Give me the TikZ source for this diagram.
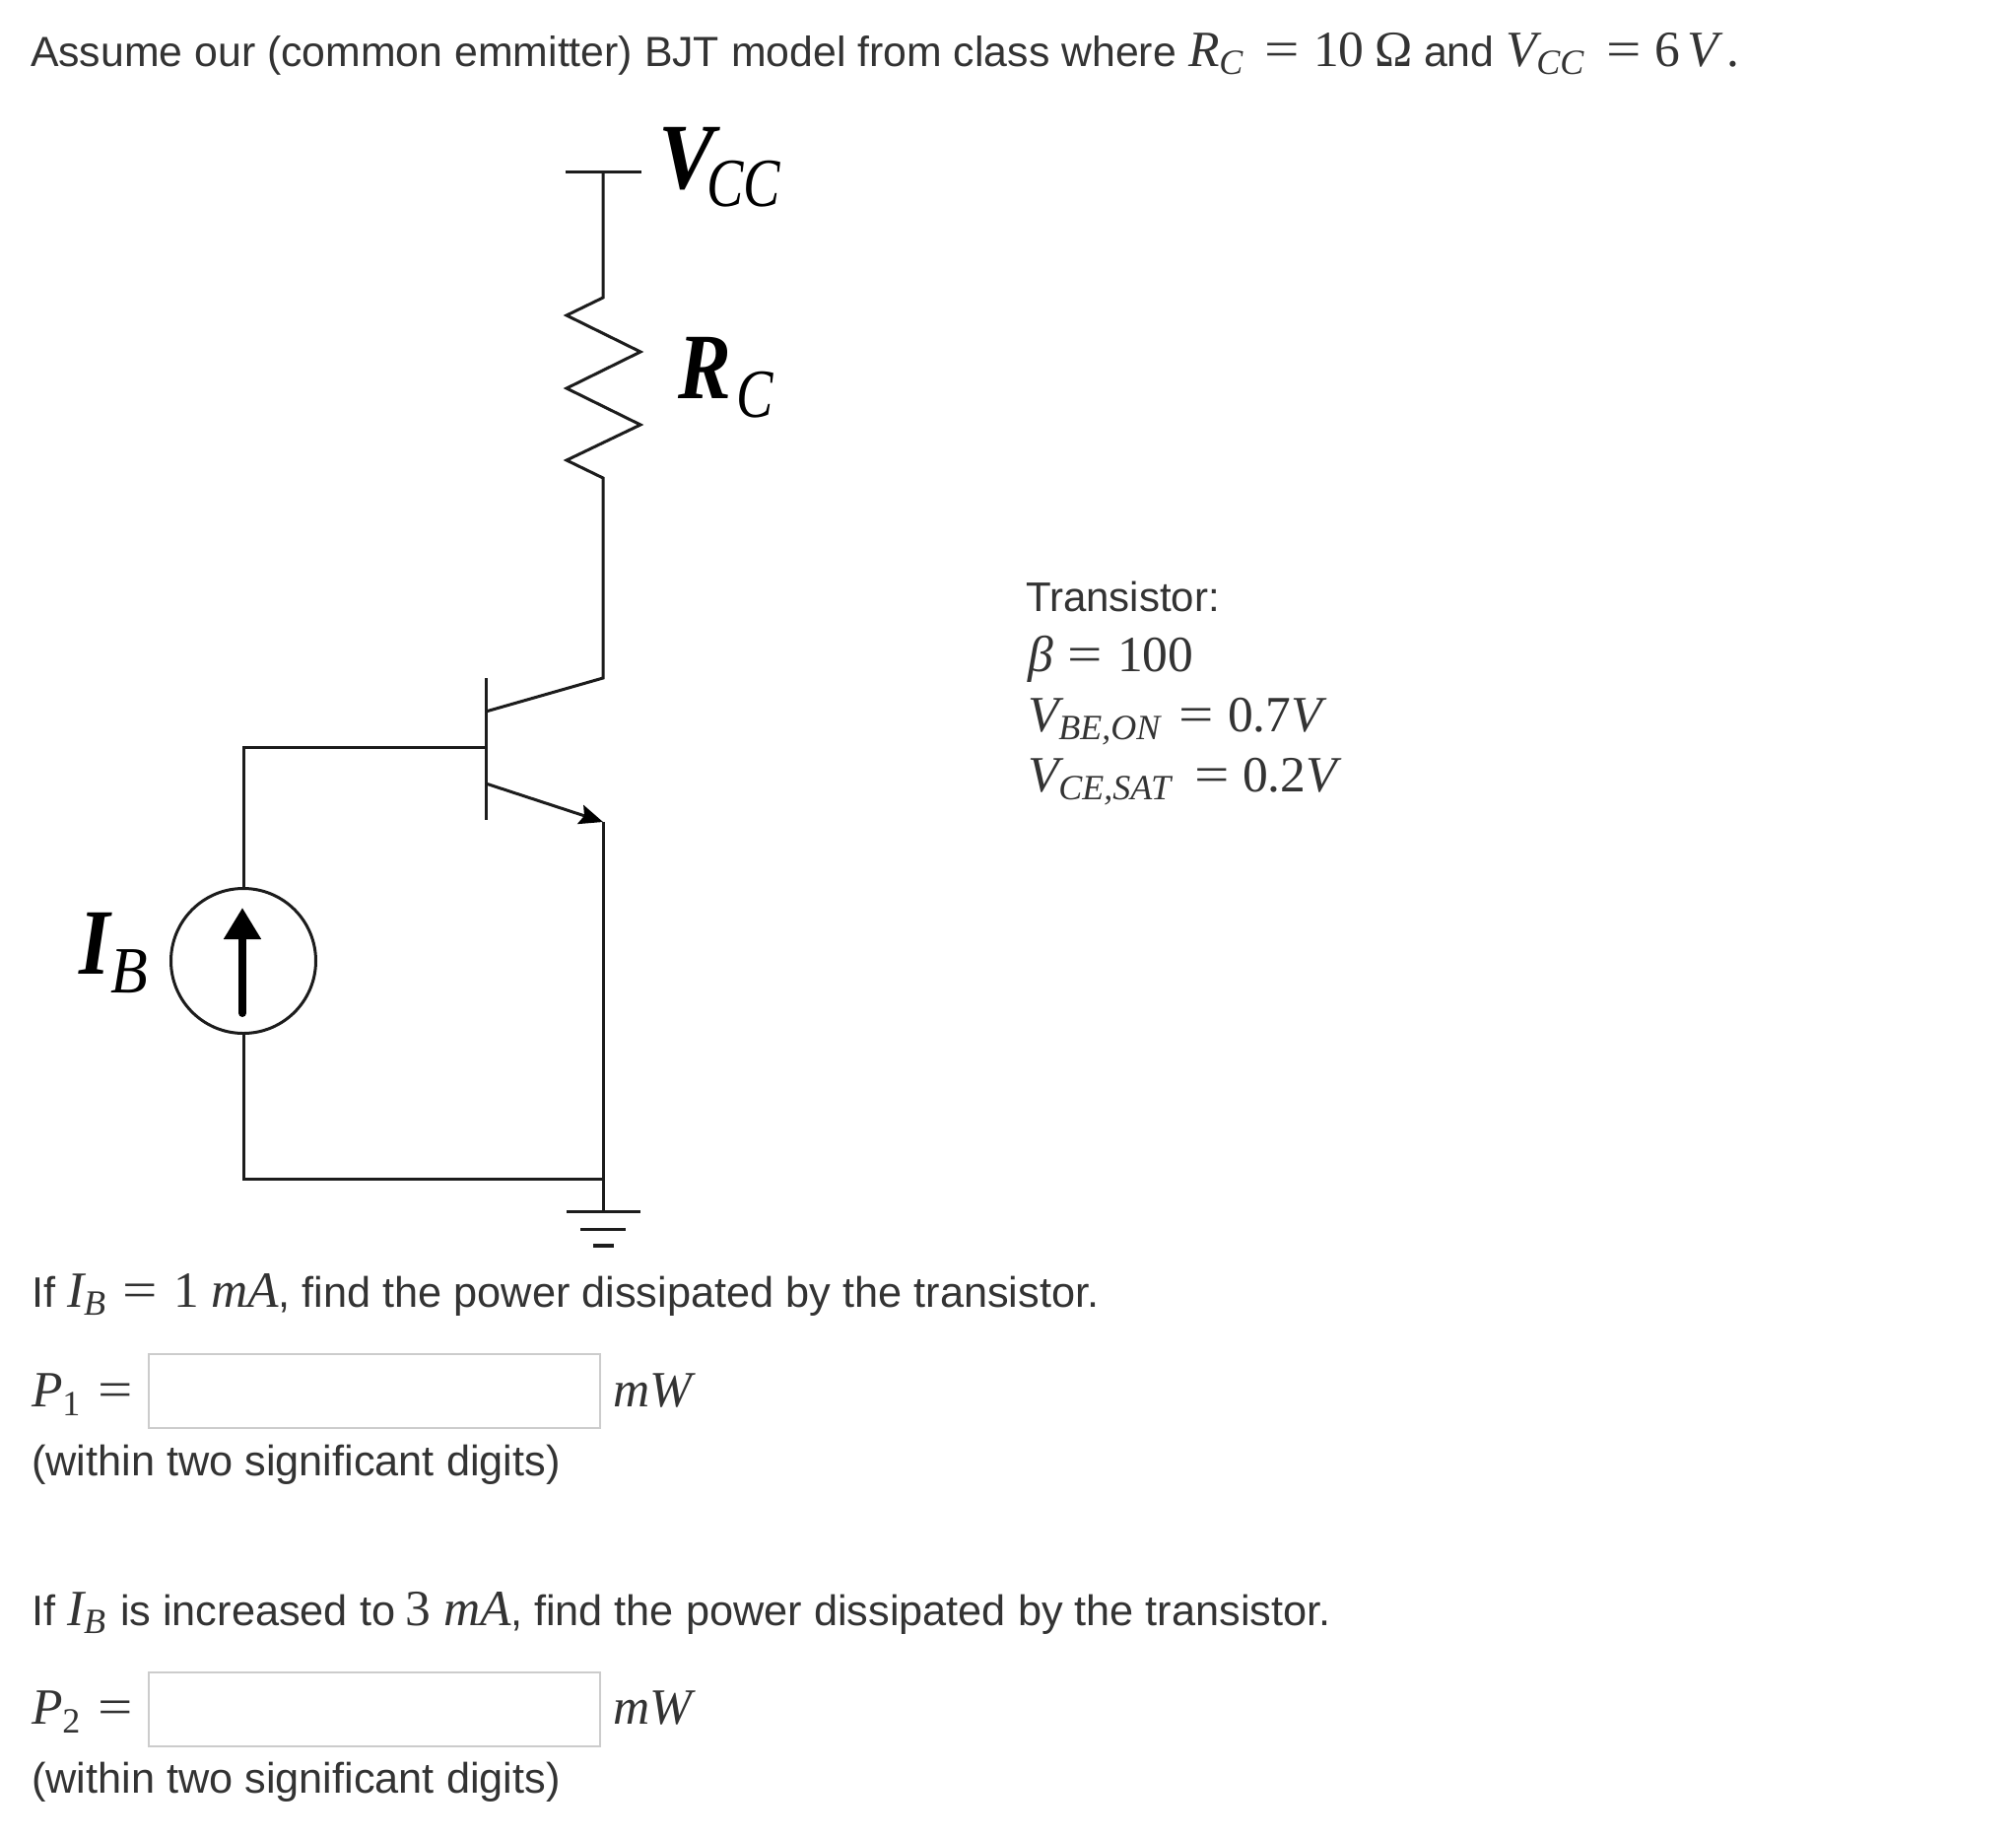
\documentclass[tikz,border=0pt]{standalone}
\usepackage[no-math]{fontspec}
\setmainfont{Liberation Sans}
\newfontfamily\lsf{Liberation Serif}
\usetikzlibrary{arrows.meta}
\definecolor{txt}{HTML}{333333}
\definecolor{wire}{HTML}{1C1C1C}
\definecolor{boxline}{HTML}{CCCCCC}
\tikzset{
  wireline/.style={draw=wire,line width=3pt,line join=miter},
  para/.style={anchor=base west,inner sep=0pt,outer sep=0pt,text=txt,font=\fontsize{43.3}{50}\selectfont},
  mup/.style={anchor=base west,inner sep=0pt,outer sep=0pt,text=txt,font=\fontsize{51.5}{56}\selectfont\lsf},
  mit/.style={mup,font=\fontsize{51.5}{56}\selectfont\lsf\itshape},
  answer/.style={draw=boxline,line width=2pt,fill=white,anchor=north west,inner sep=0pt,minimum width=458pt,minimum height=75pt},
  cirlabel/.style={anchor=base west,inner sep=0pt,outer sep=0pt,text=black}
}
\newcommand{\Sb}[2][8pt]{\raisebox{-#1}{\fontsize{36}{40}\selectfont\lsf\itshape #2}}
\newcommand{\Sn}[1]{\raisebox{-9pt}{\fontsize{36}{40}\selectfont\lsf\upshape #1}}
\newcommand{\Eq}{\scalebox{1.22}[1]{=}}
\begin{document}
\begin{tikzpicture}[x=1pt,y=-1pt]
\useasboundingbox (0,0) rectangle (2046,1864);
\fill[white] (0,0) rectangle (2046,1864);
% title line
\node[para,font=\fontsize{42.8}{50}\selectfont] (title) at (31,67) {Assume our (common emmitter) BJT model from class where};
\node[mit] (tR) at (1206,67) {R\Sb{C}};
\node[mup] (tE1) at (1283,67) {\Eq};
\node[mup] (t10) at (1333,67) {10};
\node[mup] (tO) at (1395,67) {Ω};
\node[para,font=\fontsize{42.8}{50}\selectfont] (tand) at (1445,67) {and};
\node[mit] (tV) at (1528,67) {V\Sb{CC}};
\node[mup] (tE2) at (1630,67) {\Eq};
\node[mup] (t6) at (1679,67) {6};
\node[mit] (tV2) at (1712,67) {V\,\upshape.};
% transistor data
\node[para,font=\fontsize{42}{50}\selectfont] (trans) at (1041,620) {Transistor:};
\node[mit] (beta) at (1043,681) {β};
\node[mup] (betaE) at (1083,681) {\Eq};
\node[mup] (betaV) at (1134,681) {100};
\node[mit] (vbe) at (1043,742) {V\Sb{BE,ON}};
\node[mup] (vbeE) at (1196,742) {\Eq};
\node[mup] (vbeN) at (1246,742) {0.7};
\node[mit] (vbeV) at (1310,742) {V};
\node[mit] (vce) at (1043,803) {V\Sb{CE,SAT}};
\node[mup] (vceE) at (1212,803) {\Eq};
\node[mup] (vceN) at (1261,803) {0.2};
\node[mit] (vceV) at (1325,803) {V};
% first question
\node[para] (q1a) at (32,1326.5) {If};
\node[mit] (q1I) at (68,1326.5) {I\Sb{B}};
\node[mup] (q1E) at (124,1326.5) {\Eq};
\node[mup] (q1N) at (176,1326.5) {1};
\node[mit] (q1m) at (214,1326.5) {mA};
\node[para] (q1b) at (282.6,1326.5) {, find the power dissipated by the transistor.};
\node[mit] (p1) at (32,1427) {P\Sn{1}};
\node[mup] (p1E) at (99,1427) {\Eq};
\node[answer] (box1) at (150,1373) {};
\node[mit] (u1) at (622,1427) {mW};
\node[para] (w1) at (32,1497) {(within two significant digits)};
% second question
\node[para] (q2a) at (32,1649) {If};
\node[mit] (q2I) at (68,1649) {I\Sb{B}};
\node[para] (q2b) at (122,1649) {is increased to};
\node[mup] (q2N) at (411,1649) {3};
\node[mit] (q2m) at (450,1649) {mA};
\node[para] (q2c) at (518,1649) {, find the power dissipated by the transistor.};
\node[mit] (p2) at (32,1749) {P\Sn{2}};
\node[mup] (p2E) at (99,1749) {\Eq};
\node[answer] (box2) at (150,1696) {};
\node[mit] (u2) at (622,1749) {mW};
\node[para] (w2) at (32,1819) {(within two significant digits)};
% circuit labels
\node[cirlabel] (vcc) at (668,191) {\scalebox{.9}[1]{\fontsize{95}{95}\selectfont\lsf\itshape\bfseries V}\raisebox{-18pt}{\kern-8pt\scalebox{.8}[1]{\fontsize{70}{70}\selectfont\lsf\itshape CC}}};
\node[cirlabel] (rc) at (688,404) {\scalebox{.85}[1]{\fontsize{95}{95}\selectfont\lsf\itshape\bfseries R}\raisebox{-19pt}{\kern6pt\scalebox{.8}[1]{\fontsize{70}{70}\selectfont\lsf\itshape C}}};
\node[cirlabel] (ib) at (80,988) {\scalebox{.85}[1]{\fontsize{95}{95}\selectfont\lsf\itshape\bfseries I}\raisebox{-19pt}{\kern1pt\scalebox{.92}[1]{\fontsize{67}{67}\selectfont\lsf\itshape B}}};
% circuit points
\coordinate (top) at (612,174);
\coordinate (barL) at (574,174);
\coordinate (barR) at (651,174);
\coordinate (r0) at (612,302);
\coordinate (r1) at (575,320);
\coordinate (r2) at (650,357);
\coordinate (r3) at (575,394);
\coordinate (r4) at (650,431);
\coordinate (r5) at (575,467);
\coordinate (r6) at (612,485);
\coordinate (c) at (612,688);
\coordinate (ci) at (493,722);
\coordinate (e) at (612,834);
\coordinate (ei) at (493,795);
\coordinate (bt) at (493,688);
\coordinate (bb) at (493,832);
\coordinate (b) at (493,758);
\coordinate (bc) at (247.5,758);
\coordinate (botL) at (247.5,1196);
\coordinate (botR) at (612,1196);
\coordinate (g) at (612,1229.5);
\node[draw=wire,line width=3pt,inner sep=0pt,circle,minimum size=147pt] (src) at (247,975) {};
\coordinate (at) at (246,921);
\coordinate (ab) at (246,1028);
\coordinate (g1l) at (575,1229.5);
\coordinate (g1r) at (650,1229.5);
\coordinate (g2l) at (589,1247);
\coordinate (g2r) at (635,1247);
\coordinate (g3l) at (602,1264);
\coordinate (g3r) at (623,1264);
\draw[wireline] (barL) -- (barR);
\draw[wireline] (top) -- (r0) -- (r1) -- (r2) -- (r3) -- (r4) -- (r5) -- (r6) -- (c) -- (ci);
\draw[wireline] (bt) -- (bb);
\draw[wireline] (b) -- (bc) -- (bc |- src.north);
\draw[wireline] (bc |- src.south) -- (botL) -- (botR);
\draw[wireline,-{Stealth[length=24pt,width=20pt,inset=4pt,color=black]}] (ei) -- (e);
\draw[wireline] (e) -- (g);
\draw[draw=black,line width=8pt,-{Triangle[length=32pt,width=36pt,color=black]},line cap=round] (ab) -- (at);
\draw[wireline] (g1l) -- (g1r);
\draw[wireline] (g2l) -- (g2r);
\draw[wireline,line width=3.6pt] (g3l) -- (g3r);
\end{tikzpicture}
\end{document}
